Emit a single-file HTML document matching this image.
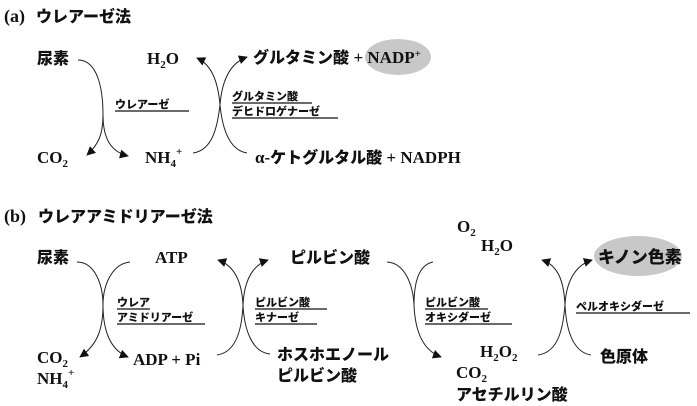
<!DOCTYPE html>
<html><head><meta charset="utf-8"><style>
html,body{margin:0;padding:0;background:#fff;}
svg{display:block}
.j{font-family:"Liberation Sans","Noto Sans CJK JP",sans-serif;font-weight:900;font-size:16px;fill:#111}
.s{font-family:"Liberation Serif","Noto Serif CJK SC",serif;font-weight:bold;font-size:17px;fill:#111}
.sub{font-size:11px}
.l{font-family:"Liberation Sans","Noto Sans CJK JP",sans-serif;font-weight:900;font-size:11px;fill:#111}
.c{fill:none;stroke:#222;stroke-width:1}
.u{stroke:#111;stroke-width:1.3}
</style></head><body>
<svg width="697" height="406" viewBox="0 0 697 406" xmlns="http://www.w3.org/2000/svg">
<defs><marker id="a" viewBox="0 0 10 10" refX="9" refY="5" markerWidth="9" markerHeight="9" markerUnits="userSpaceOnUse" orient="auto"><path d="M0,0 L10,5 L0,10 z" fill="#111"/></marker></defs>

<!-- (a) -->
<text x="4" y="22" class="s" style="font-size:18px">(a)</text>
<text x="36" y="22" class="j">ウレアーゼ法</text>

<ellipse cx="398" cy="57" rx="33" ry="18" fill="#c8c8c8"/>
<text x="37" y="64" class="j">尿素</text>
<text x="147" y="64" class="s">H<tspan class="sub" dy="4">2</tspan><tspan dy="-4">O</tspan></text>
<text x="253" y="63" class="j">グルタミン酸 <tspan class="s">+ NADP</tspan><tspan class="s sub" dy="-6">+</tspan></text>

<text x="115" y="108" class="l">ウレアーゼ</text>
<line x1="115" y1="111" x2="189" y2="111" class="u"/>
<text x="232" y="100" class="l">グルタミン酸</text>
<line x1="232" y1="103" x2="312" y2="103" class="u"/>
<text x="232" y="115" class="l">デヒドロゲナーゼ</text>
<line x1="232" y1="118" x2="338" y2="118" class="u"/>

<text x="37" y="163" class="s">CO<tspan class="sub" dy="4">2</tspan></text>
<text x="145" y="163" class="s">NH<tspan class="sub" dy="4">4</tspan><tspan class="sub" dy="-12">+</tspan></text>
<text x="255" y="163" class="s">α-<tspan class="j">ケトグルタル酸</tspan> + NADPH</text>

<path class="c" d="M78,60 C98,60 103,90 103,115 C103,135 98,145 87,155" marker-end="url(#a)"/>
<path class="c" d="M103,115 C103,140 112,152 128,156" marker-end="url(#a)"/>
<path class="c" d="M193,153 C215,150 218,120 220,105 C222,80 230,63 247,57" marker-end="url(#a)"/>
<path class="c" d="M247,153 C228,150 222,125 220,105 C218,82 212,65 197,58" marker-end="url(#a)"/>

<!-- (b) -->
<text x="4" y="222" class="s" style="font-size:18px">(b)</text>
<text x="38" y="222" class="j">ウレアアミドリアーゼ法</text>

<ellipse cx="638" cy="256" rx="44" ry="20" fill="#c8c8c8"/>
<text x="37" y="263" class="j">尿素</text>
<text x="155" y="263" class="s">ATP</text>
<text x="290" y="263" class="j">ピルビン酸</text>
<text x="457" y="232" class="s">O<tspan class="sub" dy="4">2</tspan></text>
<text x="481" y="251" class="s">H<tspan class="sub" dy="4">2</tspan><tspan dy="-4">O</tspan></text>
<text x="598" y="263" class="j" style="font-size:17px">キノン色素</text>

<text x="117" y="306" class="l">ウレア</text>
<line x1="117" y1="309" x2="150" y2="309" class="u"/>
<text x="117" y="321" class="l">アミドリアーゼ</text>
<line x1="117" y1="324" x2="205" y2="324" class="u"/>
<text x="255" y="306" class="l">ピルビン酸</text>
<line x1="255" y1="309" x2="327" y2="309" class="u"/>
<text x="255" y="321" class="l">キナーゼ</text>
<line x1="255" y1="324" x2="317" y2="324" class="u"/>
<text x="425" y="306" class="l">ピルビン酸</text>
<line x1="425" y1="309" x2="488" y2="309" class="u"/>
<text x="425" y="321" class="l">オキシダーゼ</text>
<line x1="425" y1="324" x2="512" y2="324" class="u"/>
<text x="576" y="310" class="l">ペルオキシダーゼ</text>
<line x1="576" y1="313" x2="690" y2="313" class="u"/>

<text x="37" y="363" class="s">CO<tspan class="sub" dy="4">2</tspan></text>
<text x="37" y="384" class="s">NH<tspan class="sub" dy="4">4</tspan><tspan class="sub" dy="-12">+</tspan></text>
<text x="133" y="365" class="s">ADP + Pi</text>
<text x="277" y="360" class="j">ホスホエノール</text>
<text x="277" y="381" class="j">ピルビン酸</text>
<text x="480" y="357" class="s">H<tspan class="sub" dy="4">2</tspan><tspan dy="-4">O</tspan><tspan class="sub" dy="4">2</tspan></text>
<text x="456" y="378" class="s">CO<tspan class="sub" dy="4">2</tspan></text>
<text x="456" y="400" class="j">アセチルリン酸</text>
<text x="600" y="362" class="j">色原体</text>

<path class="c" d="M77,262 C95,262 103,285 103,305 C103,330 110,350 128,357" marker-end="url(#a)"/>
<path class="c" d="M130,262 C112,264 103,285 103,305 C103,330 97,345 80,357" marker-end="url(#a)"/>
<path class="c" d="M217,355 C238,352 242,325 243,305 C244,285 250,266 268,260" marker-end="url(#a)"/>
<path class="c" d="M270,354 C250,352 244,325 243,305 C242,285 236,266 218,260" marker-end="url(#a)"/>
<path class="c" d="M387,262 C405,263 413,285 414,305 C415,330 422,350 441,357" marker-end="url(#a)"/>
<path class="c" d="M433,262 C418,265 414,285 414,305"/>
<path class="c" d="M538,355 C560,352 563,325 565,305 C566,285 573,266 592,260" marker-end="url(#a)"/>
<path class="c" d="M591,355 C571,352 566,325 565,305 C564,285 560,266 542,260" marker-end="url(#a)"/>
</svg>
</body></html>
